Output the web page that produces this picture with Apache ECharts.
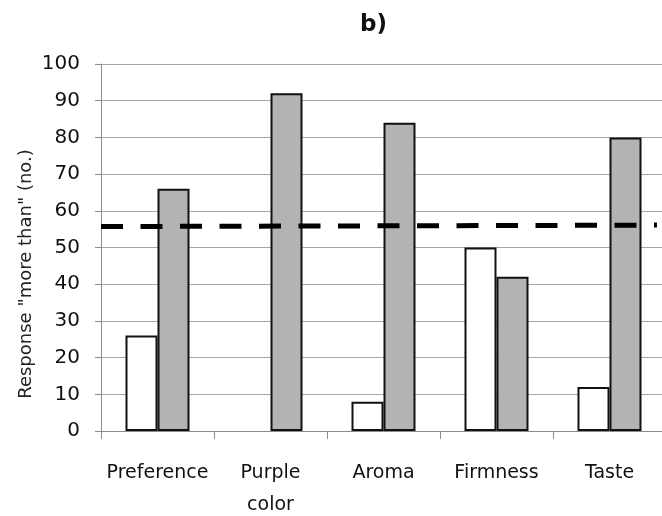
<!DOCTYPE html>
<html>
<head>
<meta charset="utf-8">
<script src="https://cdn.jsdelivr.net/npm/echarts@6/dist/echarts.min.js"></script>
<style>
  html, body { margin: 0; padding: 0; background: #fff; }
  #chart { width: 662px; height: 516px; }
</style>
</head>
<body>
<div id="chart"></div>
<script>
// data
var categories = ['Preference', 'Purple color', 'Aroma', 'Firmness', 'Taste'];
var whiteValues = [26, 0, 8, 50, 12];
var greyValues = [66, 92, 84, 42, 80];
// dashed reference line, on a hidden 0..5 axis that spans the categories
var dashX = [0, 4.92];
var dashY = [55.7, 56.1];
var yTicks = { min: 0, max: 100, interval: 10 };

var font = 'DejaVu Sans';

var myChart = echarts.init(document.getElementById('chart'));

// a zero bar would still draw its border as a flat line, so leave it empty
function noZero(arr) {
    return arr.map(function (v) { return v === 0 ? '-' : v; });
}

var option = {
    animation: false,
    title: {
        text: 'b)',
        left: 355,
        top: 9,
        textStyle: { fontFamily: font, fontSize: 23, fontWeight: 'bold', color: '#111' }
    },
    // the plot runs a little past the right edge of the picture
    grid: { left: 101, top: 64, width: 565, height: 367, outerBoundsMode: 'none' },
    graphic: [{
        type: 'text',
        x: 26,
        y: 274,
        rotation: Math.PI / 2,
        style: {
            text: 'Response "more than" (no.)',
            font: '18px "DejaVu Sans"',
            fill: '#222',
            align: 'center',
            verticalAlign: 'middle'
        }
    }],
    xAxis: [{
        type: 'category',
        data: categories,
        axisLine: { lineStyle: { color: '#8c8c8c' } },
        axisTick: { show: true, interval: 0, length: 8, lineStyle: { color: '#8c8c8c' } },
        axisLabel: {
            interval: 0,
            margin: 26,
            fontFamily: font,
            fontSize: 19,
            lineHeight: 32,
            color: '#111',
            formatter: function (v) { return v.replace(' ', '\n'); }
        }
    }, {
        type: 'value',
        min: 0,
        max: 5,
        show: false
    }],
    yAxis: {
        type: 'value',
        min: yTicks.min,
        max: yTicks.max,
        interval: yTicks.interval,
        axisLine: { show: true, lineStyle: { color: '#8c8c8c' } },
        axisTick: { show: true, length: 6, lineStyle: { color: '#8c8c8c' } },
        splitLine: { lineStyle: { color: '#a6a6a6' } },
        axisLabel: { margin: 21, fontFamily: font, fontSize: 20, color: '#111' }
    },
    series: [
        {
            type: 'bar',
            data: noZero(whiteValues),
            barWidth: 32,
            barGap: '0%',
            itemStyle: { color: '#ffffff', borderColor: '#111', borderWidth: 2 }
        },
        {
            type: 'bar',
            data: noZero(greyValues),
            barWidth: 32,
            barGap: '0%',
            itemStyle: { color: '#b3b3b3', borderColor: '#111', borderWidth: 2 }
        },
        {
            type: 'line',
            xAxisIndex: 1,
            data: dashX.map(function (x, i) { return [x, dashY[i]]; }),
            symbol: 'none',
            lineStyle: { color: '#000', width: 5, type: [22, 17.5], cap: 'butt' },
            z: 5
        }
    ]
};

myChart.setOption(option);
window.addEventListener('resize', myChart.resize);
</script>
</body>
</html>
